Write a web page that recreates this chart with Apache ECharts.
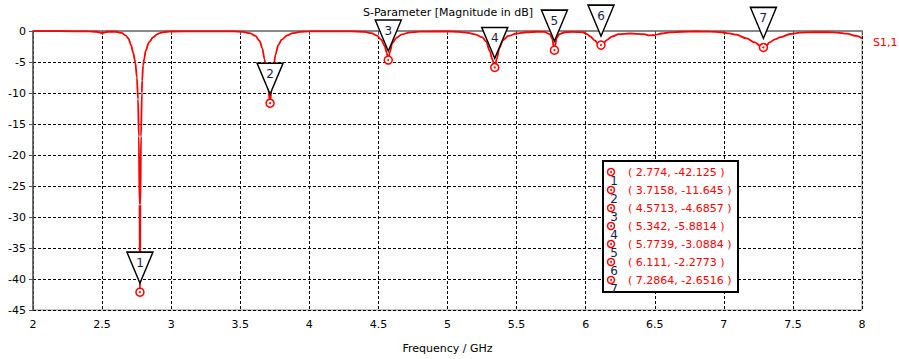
<!DOCTYPE html>
<html>
<head>
<meta charset="utf-8">
<script src="https://cdn.jsdelivr.net/npm/echarts@6/dist/echarts.min.js"></script>
<style>
  html, body { margin: 0; padding: 0; background: #fff; }
  #chart { width: 899px; height: 359px; }
</style>
</head>
<body>
<div id="chart"></div>
<script>
// S1,1 trace
const freqGHz = [
  2.0, 2.2, 2.4, 2.46, 2.5, 2.54, 2.6, 2.64, 2.67, 2.69, 2.71, 2.725, 2.74, 2.752, 2.76, 2.766, 2.771,
  2.774, 2.777, 2.782, 2.788, 2.79, 2.797, 2.805, 2.815, 2.84, 2.87, 2.9, 2.93, 2.97, 3.0,
  3.2, 3.45, 3.52, 3.57, 3.61, 3.64, 3.66, 3.675, 3.69, 3.703, 3.7158, 3.728, 3.74, 3.755, 3.775,
  3.8, 3.84, 3.88, 3.93, 4.0, 4.15, 4.3, 4.4, 4.45, 4.49, 4.52, 4.545, 4.56, 4.5713, 4.583, 4.6,
  4.63, 4.67, 4.72, 4.8, 4.9, 5.0, 5.08, 5.15, 5.2, 5.25, 5.28, 5.305, 5.325, 5.342, 5.357, 5.375,
  5.4, 5.44, 5.5, 5.57, 5.65, 5.7, 5.74, 5.757, 5.7739, 5.79, 5.81, 5.85, 5.9, 5.98, 6.01, 6.035,
  6.065, 6.09, 6.111, 6.13, 6.15, 6.19, 6.24, 6.32, 6.42, 6.465, 6.5, 6.55, 6.61, 6.7, 6.8, 6.9,
  6.98, 7.04, 7.09, 7.165, 7.225, 7.26, 7.2864, 7.31, 7.33, 7.37, 7.41, 7.48, 7.55, 7.65, 7.75,
  7.82, 7.89, 7.96, 8.0
];
const s11dB = [
  -0.02, -0.03, -0.06, -0.12, -0.35, -0.12, -0.12, -0.3, -0.7, -1.2, -2.3, -3.5, -5.0, -7.5, -11, -17, -28,
  -42.125, -28, -17, -10, -8, -5.5, -4.5, -3.2, -1.8, -1.0, -0.5, -0.25, -0.12, -0.08,
  -0.07, -0.06, -0.15, -0.35, -0.8, -1.6, -2.8, -4.5, -6.8, -9.5, -11.645, -9, -6, -3.8, -2.3,
  -1.4, -0.7, -0.35, -0.15, -0.07, -0.06, -0.06, -0.15, -0.35, -0.75, -1.4, -2.4, -3.5, -4.6857, -3.4, -2.0,
  -1.1, -0.55, -0.25, -0.1, -0.08, -0.08, -0.15, -0.3, -0.55, -1.0, -1.7, -3.2, -4.6, -5.8814, -4.5, -2.8,
  -1.5, -0.8, -0.4, -0.2, -0.12, -0.15, -0.5, -1.2, -3.0884, -1.1, -0.5, -0.2, -0.15, -0.2, -0.5, -0.9,
  -1.5, -2.0, -2.2773, -2.0, -1.5, -0.9, -0.5, -0.4, -0.5, -0.72, -0.65, -0.4, -0.22, -0.12, -0.08, -0.1,
  -0.2, -0.38, -0.6, -1.2, -1.85, -2.35, -2.6516, -2.3, -1.85, -1.35, -1.0, -0.48, -0.27, -0.2, -0.2,
  -0.25, -0.43, -0.8, -1.17
];

// markers 1..7
const markerFreq = [2.774, 3.7158, 4.5713, 5.342, 5.7739, 6.111, 7.2864];
const markerDb = [-42.125, -11.645, -4.6857, -5.8814, -3.0884, -2.2773, -2.6516];

const FONT = 'DejaVu Sans';
const traceData = freqGHz.map((f, i) => [f, s11dB[i]]);
const markerData = markerFreq.map((f, i) => [f, markerDb[i]]);

// marker table, top right of the plot
const boxX = 603, boxY = 161, rowH = 18;
const tableItems = [{
  type: 'rect',
  z: 10,
  shape: { x: boxX, y: boxY, width: 135, height: 131 },
  style: { fill: '#fff', stroke: '#000', lineWidth: 2 }
}];
markerFreq.forEach((f, i) => {
  const y = boxY + 11 + i * rowH;
  tableItems.push(
    { type: 'circle', z: 11, shape: { cx: boxX + 8, cy: y, r: 3.5 }, style: { fill: '#fff', stroke: '#ff0000', lineWidth: 1.5 } },
    { type: 'circle', z: 12, shape: { cx: boxX + 8, cy: y, r: 1 }, style: { fill: '#ff0000' } },
    { type: 'text', z: 12, x: boxX + 11, y: y + 9, style: { text: String(i + 1), font: '12px ' + FONT, fill: '#1c1c48', textAlign: 'center', textVerticalAlign: 'middle' } },
    { type: 'text', z: 12, x: boxX + 25, y: y, style: { text: '( ' + f + ', ' + markerDb[i] + ' )', font: '11px ' + FONT, fill: '#ff0000', textAlign: 'left', textVerticalAlign: 'middle' } }
  );
});

const chart = echarts.init(document.getElementById('chart'), null, { renderer: 'svg' });
chart.setOption({
  animation: false,
  backgroundColor: '#fff',
  textStyle: { fontFamily: FONT },
  title: {
    text: 'S-Parameter [Magnitude in dB]',
    left: 363,
    top: 7,
    padding: 0,
    z: 1,
    textStyle: { fontFamily: FONT, fontSize: 11, fontWeight: 'normal', color: '#000' }
  },
  grid: {
    left: 33, right: 37, top: 31, bottom: 45,
    show: true, borderColor: '#8c8c8c', borderWidth: 1
  },
  xAxis: {
    type: 'value',
    min: 2, max: 8, interval: 0.5,
    name: 'Frequency / GHz',
    nameLocation: 'middle',
    nameGap: 33,
    nameTextStyle: { fontFamily: FONT, fontSize: 11, color: '#000' },
    axisLine: { lineStyle: { color: '#888', width: 2 } },
    axisTick: { length: 4, lineStyle: { color: '#555' } },
    axisLabel: { fontFamily: FONT, fontSize: 11, color: '#000', margin: 9 },
    splitLine: { lineStyle: { color: '#000', type: [3, 2], width: 1 } }
  },
  yAxis: {
    type: 'value',
    min: -45, max: 0, interval: 5,
    axisLine: { show: true, onZero: false, lineStyle: { color: '#555', width: 1.5 } },
    axisTick: { show: true, length: 4, lineStyle: { color: '#555' } },
    axisLabel: { fontFamily: FONT, fontSize: 11, color: '#000', margin: 7 },
    splitLine: { lineStyle: { color: '#000', type: [3, 2], width: 1 } }
  },
  series: [
    {
      name: 'S1,1',
      type: 'line',
      data: traceData,
      showSymbol: false,
      smooth: 0.3,
      smoothMonotone: 'x',
      lineStyle: { color: '#ff0000', width: 1.8 },
      endLabel: {
        show: true,
        formatter: 'S1,1',
        color: '#ff0000',
        fontFamily: FONT,
        fontSize: 11,
        distance: 11,
        offset: [0, 4]
      },
      z: 2
    },
    {
      type: 'scatter',
      data: markerData,
      symbol: 'path://M0 0 L26 0 L13 31 Z',
      symbolSize: [26, 31],
      symbolOffset: [0, -24.5],
      itemStyle: { color: '#fff', borderColor: '#000', borderWidth: 1.5, opacity: 1 },
      label: {
        show: true,
        position: 'inside',
        offset: [0, -5],
        formatter: (p) => String(p.dataIndex + 1),
        fontFamily: FONT,
        fontSize: 12,
        color: '#1c1c48'
      },
      z: 3
    },
    {
      type: 'scatter',
      data: markerData,
      symbol: 'circle',
      symbolSize: 8,
      itemStyle: { color: '#fff', borderColor: '#ff0000', borderWidth: 1.5, opacity: 1 },
      z: 4
    },
    {
      type: 'scatter',
      data: markerData,
      symbol: 'circle',
      symbolSize: 2,
      itemStyle: { color: '#ff0000', opacity: 1 },
      z: 5
    }
  ],
  graphic: tableItems
});
</script>
</body>
</html>
